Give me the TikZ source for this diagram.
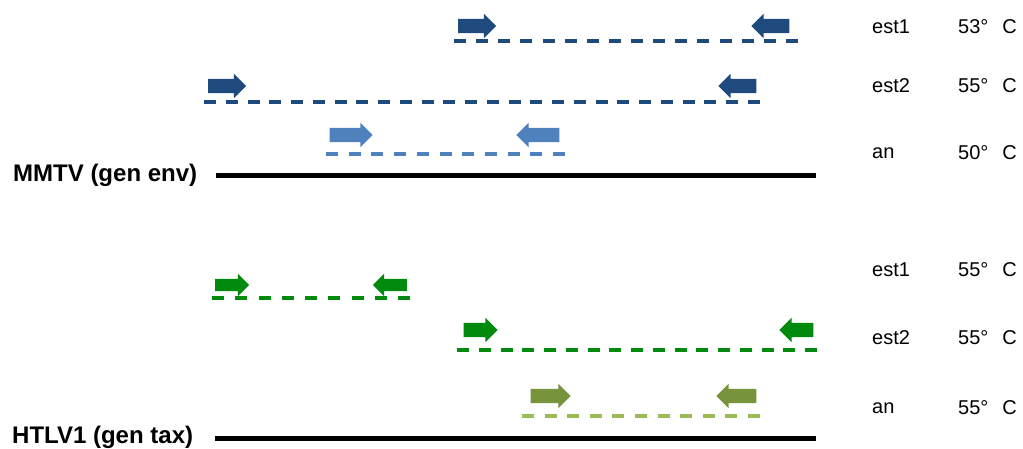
\documentclass[tikz,border=0pt]{standalone}
\usepackage{fontspec}
\setmainfont{Liberation Sans}
\usetikzlibrary{shapes.arrows}
\definecolor{dblue}{HTML}{1F4A7E}
\definecolor{lblue}{HTML}{4F81BD}
\definecolor{dgreen}{HTML}{008A0E}
\definecolor{olive}{HTML}{77933C}
\definecolor{lgreen}{HTML}{9BBB59}
\tikzset{
  parr/.style={shape=single arrow, inner xsep=0pt, inner ysep=7pt, single arrow head extend=5pt,
    single arrow tip angle=90, minimum height=38pt, draw=none},
  fwdarr/.style={parr},
  revarr/.style={parr, shape border rotate=180},
  dashline/.style={line width=3.5pt, dash pattern=on 12pt off #1pt},
  gene/.style={line width=5pt, black},
  plabel/.style={anchor=west, font=\fontsize{20}{22}\selectfont, inner sep=0pt},
  glabel/.style={anchor=west, font=\fontsize{24}{26}\selectfont\bfseries, inner sep=0pt}
}
\begin{document}
\begin{tikzpicture}[x=1pt,y=-1pt]
\useasboundingbox (0,0) rectangle (1023,449);
% ---------- MMTV ----------
% est1
\node[fwdarr, fill=dblue] (m1f) at (473.5,26) {};
\node[revarr, fill=dblue] (m1r) at (774,26) {};
\coordinate (m1a) at (454,41); \coordinate (m1b) at (798,41);
\draw[dashline=10.13, dblue] (m1a) -- (m1b);
% est2
\node[fwdarr, fill=dblue] (m2f) at (223.5,86) {};
\node[revarr, fill=dblue] (m2r) at (741,86) {};
\coordinate (m2a) at (204,102); \coordinate (m2b) at (760,102);
\draw[dashline=9.76, dblue] (m2a) -- (m2b);
% an
\node[fwdarr, fill=lblue, minimum height=43pt] (m3f) at (347.5,135) {};
\node[revarr, fill=lblue, minimum height=43pt] (m3r) at (541.5,135) {};
\coordinate (m3a) at (326,154); \coordinate (m3b) at (565,154);
\draw[dashline=10.7, lblue] (m3a) -- (m3b);
% gene line
\coordinate (mg1) at (216,176); \coordinate (mg2) at (816,176);
\draw[gene] (mg1) -- (mg2);
\node[glabel] (mlab) at (13,175) {MMTV (gen env)};
% ---------- HTLV1 ----------
% est1
\node[fwdarr, fill=dgreen, minimum height=34pt, inner ysep=6pt] (h1f) at (229,285) {};
\node[revarr, fill=dgreen, minimum height=34pt, inner ysep=6pt] (h1r) at (393,285) {};
\coordinate (h1a) at (212,298); \coordinate (h1b) at (410,298);
\draw[dashline=11.25, dgreen] (h1a) -- (h1b);
% est2
\node[fwdarr, fill=dgreen, minimum height=34pt] (h2f) at (477,330) {};
\node[revarr, fill=dgreen, minimum height=34pt] (h2r) at (800,330) {};
\coordinate (h2a) at (457,350); \coordinate (h2b) at (817,350);
\draw[dashline=9.75, dgreen] (h2a) -- (h2b);
% an
\node[fwdarr, fill=olive, minimum height=40pt] (h3f) at (547,396) {};
\node[revarr, fill=olive, minimum height=40pt] (h3r) at (740,396) {};
\coordinate (h3a) at (522,416); \coordinate (h3b) at (760,416);
\draw[dashline=10.6, lgreen] (h3a) -- (h3b);
% gene line
\coordinate (hg1) at (215,438); \coordinate (hg2) at (816,438);
\draw[gene] (hg1) -- (hg2);
\node[glabel] (hlab) at (12,437) {HTLV1 (gen tax)};
% ---------- right labels ----------
\node[plabel] (l1) at (872,27) {est1};
\node[plabel] (t1) at (958,27) {53°\hspace{0.7em}C};
\node[plabel] (l2) at (872,86) {est2};
\node[plabel] (t2) at (958,86) {55°\hspace{0.7em}C};
\node[plabel] (l3) at (872,153) {an};
\node[plabel] (t3) at (958,153) {50°\hspace{0.7em}C};
\node[plabel] (l4) at (872,270) {est1};
\node[plabel] (t4) at (958,270) {55°\hspace{0.7em}C};
\node[plabel] (l5) at (872,338) {est2};
\node[plabel] (t5) at (958,338) {55°\hspace{0.7em}C};
\node[plabel] (l6) at (872,408) {an};
\node[plabel] (t6) at (958,408) {55°\hspace{0.7em}C};
\end{tikzpicture}
\end{document}
